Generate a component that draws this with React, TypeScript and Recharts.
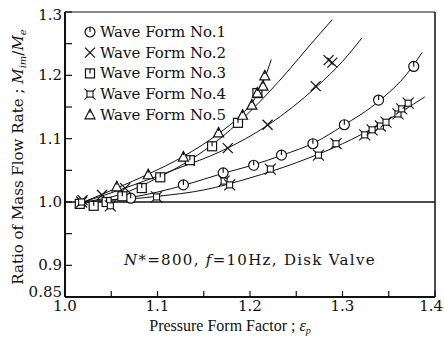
import React from 'react';
import {
  ComposedChart,
  Line,
  Scatter,
  XAxis,
  YAxis,
  ReferenceLine,
  Customized,
} from 'recharts';

const FONT = '"DejaVu Serif", serif';
const FONT_NARROW = '"Liberation Serif", serif';
const INK = '#111';

// Measured points, one array per wave form
const wave1 = [
  { x: 1.071, y: 1.006 }, { x: 1.128, y: 1.027 }, { x: 1.171, y: 1.046 },
  { x: 1.204, y: 1.058 }, { x: 1.234, y: 1.074 }, { x: 1.268, y: 1.092 },
  { x: 1.302, y: 1.122 }, { x: 1.339, y: 1.161 }, { x: 1.377, y: 1.214 },
];
const wave2 = [
  { x: 1.019, y: 1.003 }, { x: 1.040, y: 1.011 }, { x: 1.065, y: 1.022 },
  { x: 1.135, y: 1.065 }, { x: 1.176, y: 1.085 }, { x: 1.219, y: 1.122 },
  { x: 1.271, y: 1.183 }, { x: 1.285, y: 1.224 }, { x: 1.289, y: 1.220 },
];
const wave3 = [
  { x: 1.016, y: 0.997 }, { x: 1.031, y: 0.994 }, { x: 1.045, y: 1.000 },
  { x: 1.062, y: 1.009 }, { x: 1.083, y: 1.022 }, { x: 1.103, y: 1.039 },
  { x: 1.135, y: 1.066 }, { x: 1.159, y: 1.088 }, { x: 1.187, y: 1.125 },
  { x: 1.208, y: 1.172 },
];
const wave4 = [
  { x: 1.018, y: 1.000 }, { x: 1.049, y: 0.994 }, { x: 1.099, y: 1.008 },
  { x: 1.172, y: 1.033 }, { x: 1.178, y: 1.027 }, { x: 1.222, y: 1.052 },
  { x: 1.274, y: 1.074 }, { x: 1.293, y: 1.092 }, { x: 1.324, y: 1.106 },
  { x: 1.332, y: 1.114 }, { x: 1.341, y: 1.120 }, { x: 1.347, y: 1.126 },
  { x: 1.360, y: 1.139 }, { x: 1.364, y: 1.147 }, { x: 1.371, y: 1.156 },
];
const wave5 = [
  { x: 1.056, y: 1.024 }, { x: 1.090, y: 1.043 }, { x: 1.128, y: 1.071 },
  { x: 1.166, y: 1.109 }, { x: 1.192, y: 1.137 }, { x: 1.202, y: 1.153 },
  { x: 1.208, y: 1.172 }, { x: 1.214, y: 1.183 }, { x: 1.216, y: 1.199 },
];

// Fitted curves through each set
const fit1 = [
  { x: 1.02, y: 1.0 }, { x: 1.07, y: 1.007 }, { x: 1.13, y: 1.027 },
  { x: 1.17, y: 1.045 }, { x: 1.2, y: 1.057 }, { x: 1.235, y: 1.074 },
  { x: 1.27, y: 1.094 }, { x: 1.3, y: 1.12 }, { x: 1.34, y: 1.16 },
  { x: 1.37, y: 1.203 }, { x: 1.386, y: 1.236 },
];
const fit2 = [
  { x: 1.02, y: 1.0 }, { x: 1.065, y: 1.022 }, { x: 1.12, y: 1.052 },
  { x: 1.17, y: 1.081 }, { x: 1.22, y: 1.122 }, { x: 1.272, y: 1.182 },
  { x: 1.3, y: 1.222 }, { x: 1.321, y: 1.259 },
];
const fit3 = [
  { x: 1.02, y: 1.0 }, { x: 1.06, y: 1.012 }, { x: 1.1, y: 1.038 },
  { x: 1.135, y: 1.066 }, { x: 1.17, y: 1.103 }, { x: 1.205, y: 1.15 },
  { x: 1.24, y: 1.205 }, { x: 1.265, y: 1.248 }, { x: 1.289, y: 1.288 },
];
const fit4 = [
  { x: 1.02, y: 1.0 }, { x: 1.1, y: 1.009 }, { x: 1.15, y: 1.019 },
  { x: 1.2, y: 1.038 }, { x: 1.25, y: 1.062 }, { x: 1.3, y: 1.092 },
  { x: 1.34, y: 1.122 }, { x: 1.389, y: 1.166 },
];
const fit5 = [
  { x: 1.02, y: 1.0 }, { x: 1.056, y: 1.022 }, { x: 1.09, y: 1.044 },
  { x: 1.128, y: 1.072 }, { x: 1.166, y: 1.108 }, { x: 1.19, y: 1.137 },
  { x: 1.205, y: 1.163 }, { x: 1.216, y: 1.196 }, { x: 1.223, y: 1.225 },
];

const seriesNames = [
  'Wave Form No.1',
  'Wave Form No.2',
  'Wave Form No.3',
  'Wave Form No.4',
  'Wave Form No.5',
];

const xTicks = [1.0, 1.05, 1.1, 1.15, 1.2, 1.25, 1.3, 1.35, 1.4];
const xLabels = [1.0, 1.1, 1.2, 1.3, 1.4];
const yTicks = [0.85, 0.9, 0.95, 1.0, 1.05, 1.1, 1.15, 1.2, 1.25, 1.3];
const yLabels = [0.85, 0.9, 1.0, 1.1, 1.2, 1.3];

const TICK_GAP = 4;

type MarkProps = { cx?: number; cy?: number };

const CircleMark = ({ cx = 0, cy = 0 }: MarkProps) => (
  <g stroke={INK} strokeWidth={1.2} fill="#fff">
    <circle cx={cx} cy={cy} r={5} />
    <line x1={cx} y1={cy - 5} x2={cx} y2={cy} />
  </g>
);
const CrossMark = ({ cx = 0, cy = 0 }: MarkProps) => (
  <g stroke={INK} strokeWidth={1.2}>
    <line x1={cx - 5} y1={cy - 5} x2={cx + 5} y2={cy + 5} />
    <line x1={cx - 5} y1={cy + 5} x2={cx + 5} y2={cy - 5} />
  </g>
);
const SquareMark = ({ cx = 0, cy = 0 }: MarkProps) => (
  <g stroke={INK} strokeWidth={1.2} fill="#fff">
    <rect x={cx - 4.5} y={cy - 4.5} width={9} height={9} />
    <line x1={cx} y1={cy - 4.5} x2={cx} y2={cy} />
  </g>
);
const StarMark = ({ cx = 0, cy = 0 }: MarkProps) => (
  <g stroke={INK} strokeWidth={1.1} fill="#fff">
    <line x1={cx - 5.5} y1={cy - 5.5} x2={cx + 5.5} y2={cy + 5.5} />
    <line x1={cx - 5.5} y1={cy + 5.5} x2={cx + 5.5} y2={cy - 5.5} />
    <rect x={cx - 3} y={cy - 3} width={6} height={6} />
  </g>
);
const TriangleMark = ({ cx = 0, cy = 0 }: MarkProps) => (
  <g stroke={INK} strokeWidth={1.2} fill="#fff">
    <polygon points={`${cx},${cy - 5.5} ${cx - 5},${cy + 4} ${cx + 5},${cy + 4}`} />
    <line x1={cx} y1={cy - 5.5} x2={cx} y2={cy - 2} />
  </g>
);

const markers = [CircleMark, CrossMark, SquareMark, StarMark, TriangleMark];
const waves = [wave1, wave2, wave3, wave4, wave5];
const fits = [fit1, fit2, fit3, fit4, fit5];

const isLabelled = (v: number, list: number[]) =>
  list.some((l) => Math.abs(l - v) < 1e-6);

const XTick = (props: any) => {
  const { x, y, payload } = props;
  const v = payload.value as number;
  const base = y - TICK_GAP;
  const last = v > 1.399;
  return (
    <g>
      <line x1={x} x2={x} y1={base} y2={base - 6} stroke={INK} strokeWidth={1.2} />
      {isLabelled(v, xLabels) && (
        <text
          x={last ? x + 8 : x}
          y={base + 14}
          textAnchor={last ? 'end' : 'middle'}
          fontSize={15}
          fontFamily={FONT}
          fill={INK}
        >
          {v.toFixed(1)}
        </text>
      )}
    </g>
  );
};

const YTick = (props: any) => {
  const { x, y, payload } = props;
  const v = payload.value as number;
  const base = x + TICK_GAP;
  let dy = 5;
  if (v > 1.29) dy = 8;
  if (v < 0.86) dy = 0;
  return (
    <g>
      <line x1={base} x2={base + 7} y1={y} y2={y} stroke={INK} strokeWidth={1.2} />
      {isLabelled(v, yLabels) && (
        <text x={base - 3} y={y + dy} textAnchor="end" fontSize={15} fontFamily={FONT} fill={INK}>
          {v < 0.86 ? '0.85' : v.toFixed(1)}
        </text>
      )}
    </g>
  );
};

const Annotations = () => (
  <g fontFamily={FONT} fill={INK}>
    {seriesNames.map((name, i) => {
      const Mark = markers[i];
      const cy = 32 + i * 20.7;
      return (
        <g key={name}>
          <Mark cx={90} cy={cy} />
          <text x={100} y={cy + 5} fontSize={15}>
            {name}
          </text>
        </g>
      );
    })}
    <text x={124} y={265} fontSize={15} letterSpacing={1.3}>
      <tspan fontStyle="italic">N</tspan>
      <tspan>*=800, </tspan>
      <tspan fontStyle="italic">f</tspan>
      <tspan>=10Hz, Disk Valve</tspan>
    </text>
    <text x={230} y={331} fontSize={16} textAnchor="middle" fontFamily={FONT_NARROW}>
      <tspan>Pressure Form Factor ; </tspan>
      <tspan fontStyle="italic">ε</tspan>
      <tspan fontSize={10} dy={3} fontStyle="italic">p</tspan>
    </text>
    <text
      x={0}
      y={0}
      fontSize={15}
      textAnchor="middle"
      transform="translate(23 157) rotate(-90)"
    >
      <tspan>Ratio of Mass Flow Rate ; </tspan>
      <tspan fontStyle="italic">M</tspan>
      <tspan fontSize={10} dy={3} fontStyle="italic">im</tspan>
      <tspan dy={-3}>/</tspan>
      <tspan fontStyle="italic">M</tspan>
      <tspan fontSize={10} dy={3} fontStyle="italic">e</tspan>
    </text>
  </g>
);

export default function App() {
  return (
    <div style={{ position: 'absolute', left: 0, top: 0, background: '#fff' }}>
      <ComposedChart
        width={444}
        height={341}
        margin={{ top: 12, right: 9, bottom: 14, left: 20 }}
      >
        <XAxis
          type="number"
          dataKey="x"
          domain={[1.0, 1.4]}
          ticks={xTicks}
          interval={0}
          allowDataOverflow
          height={30}
          tickSize={0}
          tickMargin={TICK_GAP}
          tickLine={false}
          axisLine={{ stroke: INK, strokeWidth: 2 }}
          tick={<XTick />}
        />
        <YAxis
          type="number"
          dataKey="y"
          domain={[0.85, 1.3]}
          ticks={yTicks}
          interval={0}
          allowDataOverflow
          width={45}
          tickSize={0}
          tickMargin={TICK_GAP}
          tickLine={false}
          axisLine={{ stroke: INK, strokeWidth: 2 }}
          tick={<YTick />}
        />
        <ReferenceLine y={1.3} stroke={INK} strokeWidth={1} />
        <ReferenceLine x={1.4} stroke={INK} strokeWidth={1.5} />
        <ReferenceLine y={1.0} stroke={INK} strokeWidth={1.3} />
        {fits.map((f, i) => (
          <Line
            key={`fit${i}`}
            data={f}
            dataKey="y"
            type="monotone"
            stroke={INK}
            strokeWidth={1}
            dot={false}
            activeDot={false}
            isAnimationActive={false}
          />
        ))}
        {waves.map((w, i) => {
          const Mark = markers[i];
          return (
            <Scatter
              key={`wave${i}`}
              name={seriesNames[i]}
              data={w}
              dataKey="y"
              shape={(p: any) => <Mark cx={p.cx} cy={p.cy} />}
              isAnimationActive={false}
            />
          );
        })}
        <Customized component={Annotations} />
      </ComposedChart>
    </div>
  );
}
